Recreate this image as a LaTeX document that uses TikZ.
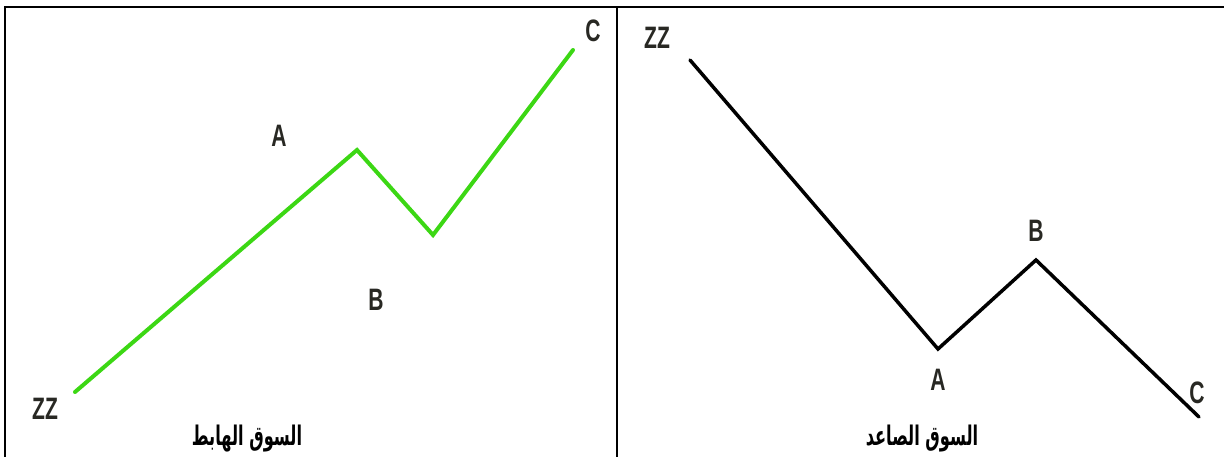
\documentclass[tikz,border=0pt]{standalone}
\usepackage{graphicx}
\usepackage{fontspec}
\setmainfont{Liberation Sans}
\newfontfamily\arabicfont[Script=Arabic]{DejaVu Sans}
\TeXXeTstate=1
\definecolor{wavegreen}{RGB}{60,215,20}
\definecolor{labelgray}{RGB}{40,40,35}
\newcommand{\narrow}[1]{\scalebox{0.68}[1]{#1}}
\newcommand{\tallar}[1]{\scalebox{0.81}[1.35]{#1}}
\begin{document}
\begin{tikzpicture}[x=1pt,y=-1pt,
  frame/.style={line width=2.8pt,black,line cap=rect},
  wave/.style={line width=4pt,line join=miter,line cap=round},
  lbl/.style={font=\bfseries\fontsize{31}{31}\selectfont,text=labelgray,inner sep=0pt},
  title/.style={font=\arabicfont\bfseries\fontsize{20}{20}\selectfont,inner sep=0pt}]
\useasboundingbox (0,0) rectangle (1224,457);
% frame
\coordinate (tl) at (5,7);
\coordinate (tr) at (1224,7);
\coordinate (bl) at (5,457);
\coordinate (mt) at (617,7);
\coordinate (mb) at (617,457);
\draw[frame] (bl) -- (tl) -- (tr);
\draw[frame] (mt) -- (mb);
% left panel: falling market
\coordinate (l0) at (75,392);
\coordinate (lA) at (357,150);
\coordinate (lB) at (433,235);
\coordinate (lC) at (573,50);
\draw[wave,wavegreen] (l0) -- (lA) -- (lB) -- (lC);
\node[lbl] (lzz) at (45,409) {\narrow{ZZ}};
\node[lbl] (la) at (279,136) {\narrow{A}};
\node[lbl] (lb) at (376,300) {\narrow{B}};
\node[lbl] (lc) at (593,31) {\narrow{C}};
\node[title] (ltitle) at (247,439) {\tallar{\beginR السوق الهابط\endR}};
% right panel: rising market
\coordinate (r0) at (690,60);
\coordinate (rA) at (938,349);
\coordinate (rB) at (1036,260);
\coordinate (rC) at (1199,417);
\draw[wave,black,line width=3.5pt] (r0) -- (rA) -- (rB) -- (rC);
\node[lbl] (rzz) at (657,38) {\narrow{ZZ}};
\node[lbl] (ra) at (938,380) {\narrow{A}};
\node[lbl] (rb) at (1036,231) {\narrow{B}};
\node[lbl] (rc) at (1197,393) {\narrow{C}};
\node[title] (rtitle) at (922,439) {\tallar{\beginR السوق الصاعد\endR}};
\end{tikzpicture}
\end{document}
